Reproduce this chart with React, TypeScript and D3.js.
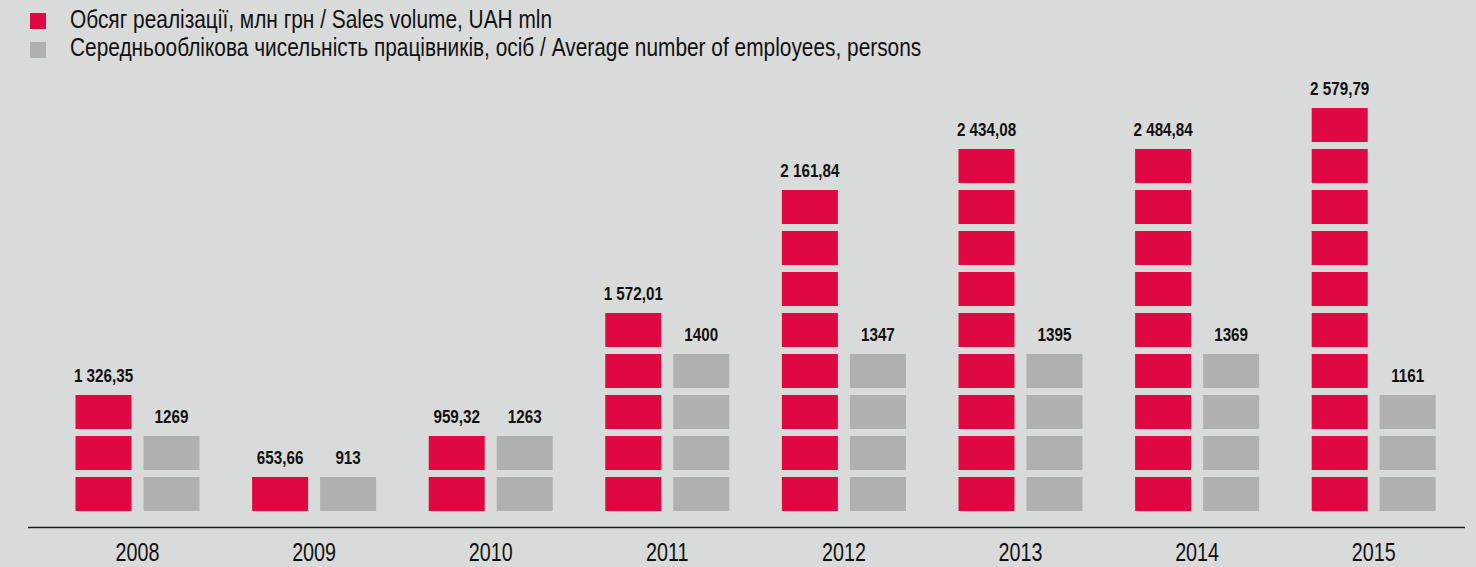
import React from "react";
import * as d3 from "d3";

const years = ["2008", "2009", "2010", "2011", "2012", "2013", "2014", "2015"];
const salesValues = [1326.35, 653.66, 959.32, 1572.01, 2161.84, 2434.08, 2484.84, 2579.79];
const salesLabels = ["1 326,35", "653,66", "959,32", "1 572,01", "2 161,84", "2 434,08", "2 484,84", "2 579,79"];
const salesBlocks = [3, 1, 2, 5, 8, 9, 9, 10];
const employees = [1269, 913, 1263, 1400, 1347, 1395, 1369, 1161];
const employeeBlocks = [2, 1, 2, 4, 4, 4, 4, 3];
const seriesKeys = ["sales", "emp"];
const legendLabels = [
  "Обсяг реалізації, млн грн / Sales volume, UAH mln",
  "Середньооблікова чисельність працівників, осіб / Average number of employees, persons",
];

const W = 1476;
const H = 567;
const RED = "#df0842";
const GRAY = "#b0b0b0";
const BG = "#d9dbda";
const FONT = "'Liberation Sans', Arial, sans-serif";

function SText(props: {
  x: number;
  y: number;
  sx: number;
  size: number;
  anchor?: string;
  bold?: boolean;
  children: React.ReactNode;
}) {
  const { x, y, sx, size, anchor, bold, children } = props;
  return (
    <text
      transform={`translate(${x},${y}) scale(${sx},1)`}
      textAnchor={anchor ?? "start"}
      fontFamily={FONT}
      fontWeight={bold ? "bold" : "normal"}
      fontSize={size}
      fill="#111"
    >
      {children}
    </text>
  );
}

export default function App() {
  const x = d3.scaleBand<string>().domain(years).range([49.2, 1462]).padding(0);
  const inner = d3.scaleBand<string>().domain(seriesKeys).range([-62, 62]).paddingInner(0.1765).paddingOuter(0);
  const y = d3.scaleLinear().domain([0, 10]).range([511, 101]);
  const gap = 7;

  const series = [
    { key: "sales", blocks: salesBlocks, labels: salesLabels, color: RED },
    { key: "emp", blocks: employeeBlocks, labels: employees.map(String), color: GRAY },
  ];

  return (
    <svg width={W} height={H} style={{ position: "absolute", left: 0, top: 0, display: "block" }}>
      <rect x={0} y={0} width={W} height={H} fill={BG} />
      {legendLabels.map((t, i) => (
        <g key={t}>
          <rect x={30} y={13 + i * 29} width={16} height={16} fill={i === 0 ? RED : GRAY} />
          <SText x={70} y={28 + i * 28} sx={0.835} size={25}>
            {t}
          </SText>
        </g>
      ))}
      {years.map((yr, yi) => {
        const cx = (x(yr) ?? 0) + x.bandwidth() / 2;
        return (
          <g key={yr}>
            {series.map((s) => {
              const bx = cx + (inner(s.key) ?? 0);
              const bw = inner.bandwidth();
              const n = s.blocks[yi];
              return (
                <g key={s.key}>
                  {d3.range(n).map((b) => (
                    <rect
                      key={b}
                      x={bx}
                      y={y(b + 1) + gap}
                      width={bw}
                      height={y(b) - y(b + 1) - gap}
                      fill={s.color}
                    />
                  ))}
                  <SText x={bx + bw / 2} y={y(n) + gap - 13} sx={0.87} size={17.5} anchor="middle" bold>
                    {s.labels[yi]}
                  </SText>
                </g>
              );
            })}
            <SText x={cx} y={561} sx={0.79} size={25} anchor="middle">
              {yr}
            </SText>
          </g>
        );
      })}
      <line x1={28} x2={1465} y1={527.5} y2={527.5} stroke="#1a1a1a" strokeWidth={1.6} />
    </svg>
  );
}
